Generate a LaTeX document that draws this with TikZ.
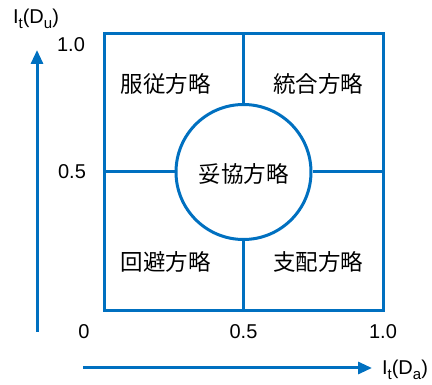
\documentclass[tikz,border=0pt]{standalone}
\usepackage{fontspec}
\setmainfont{Liberation Sans}
\newfontfamily\cjk{Noto Sans CJK JP}
\usetikzlibrary{arrows.meta}
\definecolor{lineblue}{RGB}{0,112,192}
\newcommand{\mysub}[1]{\raisebox{-5pt}{\fontsize{15}{16}\selectfont #1}}
\begin{document}
\begin{tikzpicture}[x=1pt,y=-1pt,
  frame/.style={draw=lineblue,line width=3pt},
  axis/.style={draw=lineblue,line width=3pt,-{Triangle[length=14pt,width=12pt]}},
  lbl/.style={font=\fontsize{20}{22}\selectfont,inner sep=0pt},
  cj/.style={font=\cjk\fontsize{22.5}{24}\selectfont,inner sep=0pt}]
\useasboundingbox (0,0) rectangle (432,385);
\coordinate (tl) at (104,34);
\coordinate (br) at (383,311);
\coordinate (tm) at (243.5,34);
\coordinate (bm) at (243.5,311);
\coordinate (lm) at (104,172);
\coordinate (rm) at (383,172);
\node[circle,draw=lineblue,line width=3pt,minimum size=135pt,inner sep=0pt] (c) at (243.5,172) {};
\node[cj] (ct) at (243.5,174) {妥協方略};
\draw[frame] (tl) rectangle (br);
\draw[frame] (tm) -- (c.north);
\draw[frame] (c.south) -- (bm);
\draw[frame] (lm) -- (c.west);
\draw[frame] (c.east) -- (rm);
\node[cj] (q1) at (166,84) {服従方略};
\node[cj] (q2) at (318,84) {統合方略};
\node[cj] (q3) at (166,262) {回避方略};
\node[cj] (q4) at (318,262) {支配方略};
\coordinate (ya) at (37,332);
\coordinate (yb) at (37,50);
\coordinate (xa) at (83,368);
\coordinate (xb) at (372,368);
\draw[axis] (ya) -- (yb);
\draw[axis] (xa) -- (xb);
\node[lbl] (ylab) at (36,19) {I\mysub{t}(D\mysub{u})};
\node[lbl] (xlab) at (405,370) {I\mysub{t}(D\mysub{a})};
\node[lbl] (y10) at (71,45) {1.0};
\node[lbl] (y05) at (72,172) {0.5};
\node[lbl] (x0) at (84,332) {0};
\node[lbl] (x05) at (243.5,332) {0.5};
\node[lbl] (x10) at (383,332) {1.0};
\end{tikzpicture}
\end{document}
